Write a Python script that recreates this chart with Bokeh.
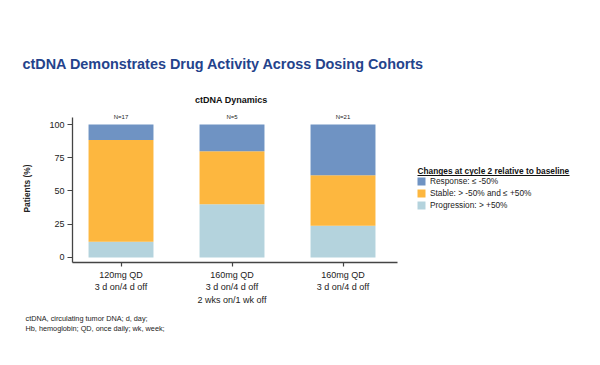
from bokeh.plotting import figure
from bokeh.models import (Range1d, FixedTicker, Label, Legend, LegendItem, Arrow, Title,
                          ColumnDataSource)
from bokeh.embed import file_html
from bokeh.resources import INLINE

# ---------------- data ----------------
cohorts = ["120mg QD\n3 d on/4 d off",
           "160mg QD\n3 d on/4 d off\n2 wks on/1 wk off",
           "160mg QD\n3 d on/4 d off"]
n_labels = ["N=17", "N=5", "N=21"]
progression = [11.8, 40.0, 23.8]
stable = [76.5, 40.0, 38.1]
response = [11.7, 20.0, 38.1]
series_names = ["Response: \u2264 -50%", "Stable: > -50% and \u2264 +50%", "Progression: > +50%"]
y_ticks = [0, 25, 50, 75, 100]

title_text = "ctDNA Demonstrates Drug Activity Across Dosing Cohorts"
subtitle_text = "ctDNA Dynamics"
legend_title = "Changes at cycle 2 relative to baseline"
footnotes = ["ctDNA, circulating tumor DNA; d, day;",
             "Hb, hemoglobin; QD, once daily; wk, week;"]

# ---------------- layout (page pixels) ----------------
W, H = 600, 365
FL, FR, FT, FB = 72, 598, 114, 262          # frame edges
PX_X = 111.0                                # pixels per category step
PX_Y = 1.329                                # pixels per percent
X_AXIS = (0.563, 3.49)                      # visible extent of the x axis line
Y_AXIS = (-3.8, 105.3)                      # visible extent of the y axis line
X0 = X_AXIS[0]
X1 = X0 + (FR - FL) / PX_X
Y0 = Y_AXIS[0]
Y1 = Y0 + (FB - FT) / PX_Y
FONT = "Liberation Sans"
C_RESP, C_STAB, C_PROG = "#6F93C3", "#FDB73F", "#B4D3DD"
AX = "#444444"
SUB_LEFT_PX = 194.6                         # left edge of the centred subtitle


def dx(page_x):
    return X0 + (page_x - FL) / PX_X


def dy(page_y):
    return Y0 + (FB - page_y) / PX_Y


xs = [i + 1 for i in range(len(cohorts))]
src = ColumnDataSource(dict(x=xs, progression=progression, stable=stable, response=response))

p = figure(width=W, height=H, output_backend="svg", toolbar_location=None,
           x_range=Range1d(X0, X1), y_range=Range1d(Y0, Y1),
           min_border_left=FL, min_border_right=W - FR,
           min_border_top=FT, min_border_bottom=H - FB, title=None)
p.outline_line_color = None
p.grid.visible = False
p.background_fill_color = "white"
p.border_fill_color = "white"

# subtitle (closest to frame) and main title, stacked in the above panel
sub = Title(text=subtitle_text, align="left", offset=SUB_LEFT_PX - FL,
            text_font=FONT, text_font_style="bold", text_font_size="9px",
            text_color="#111111")
main = Title(text=title_text, align="left", offset=22 - FL, text_font=FONT,
             text_font_style="bold", text_font_size="14.4px", text_color="#24438C")
if hasattr(sub, "standoff"):
    sub.standoff = 19
    main.standoff = 24
p.add_layout(sub, "above")
p.add_layout(main, "above")

rs = p.vbar_stack(["progression", "stable", "response"], x="x", width=0.585,
                  color=[C_PROG, C_STAB, C_RESP], line_color=None, source=src)

# axes
p.xaxis.ticker = FixedTicker(ticks=xs)
p.xaxis.major_label_overrides = {x: c for x, c in zip(xs, cohorts)}
p.xaxis.bounds = X_AXIS
p.yaxis.ticker = FixedTicker(ticks=y_ticks)
p.yaxis.bounds = Y_AXIS
for ax in (p.xaxis, p.yaxis):
    ax.axis_line_color = AX
    ax.axis_line_width = 1.3
    ax.major_tick_line_color = AX
    ax.major_tick_line_width = 1.2
    ax.major_tick_in = 0
    ax.minor_tick_line_color = None
    ax.major_label_text_font = FONT
    ax.major_label_text_font_size = "9px"
    ax.major_label_text_color = "#222222"
p.xaxis.major_label_text_line_height = 1.25
p.xaxis.major_tick_out = 4
p.yaxis.major_tick_out = 5
p.xaxis.major_label_standoff = 3
p.yaxis.major_label_standoff = 3
p.yaxis.axis_label = "Patients (%)"
p.yaxis.axis_label_text_font = FONT
p.yaxis.axis_label_text_font_style = "bold"
p.yaxis.axis_label_text_font_size = "8.4px"
p.yaxis.axis_label_text_color = "#222222"
p.yaxis.axis_label_standoff = 14

# N labels above bars
for x, n in zip(xs, n_labels):
    p.add_layout(Label(x=x, y=dy(116.5), text=n, text_align="center", text_baseline="middle",
                       text_font=FONT, text_font_size="6px", text_color="#222222"))

# legend title + underline
p.add_layout(Label(x=dx(417), y=dy(170), text=legend_title, text_align="left",
                   text_baseline="middle", text_font=FONT, text_font_style="bold",
                   text_font_size="8.3px", text_color="#111111"))
p.add_layout(Arrow(end=None, x_start=dx(417), y_start=dy(175), x_end=dx(569), y_end=dy(175),
                   line_color="#111111", line_width=1))

legend = Legend(items=[LegendItem(label=series_names[0], renderers=[rs[2]]),
                       LegendItem(label=series_names[1], renderers=[rs[1]]),
                       LegendItem(label=series_names[2], renderers=[rs[0]])],
                location=(416 - FL, FB - 211), padding=0, margin=0, spacing=0,
                glyph_width=10, glyph_height=10, label_height=12, label_standoff=4,
                label_text_font=FONT, label_text_font_size="8.3px",
                label_text_color="#222222", border_line_color=None, background_fill_alpha=0)
p.add_layout(legend)

# footnotes (below panel, one two-line title)
fn = Title(text="\n".join(footnotes), align="left", offset=25 - FL, text_font=FONT,
           text_font_style="normal", text_font_size="7.3px", text_color="#222222",
           text_line_height=1.15)
if hasattr(fn, "standoff"):
    fn.standoff = 9
p.add_layout(fn, "below")

open("out.html", "w").write(file_html(p, INLINE))
